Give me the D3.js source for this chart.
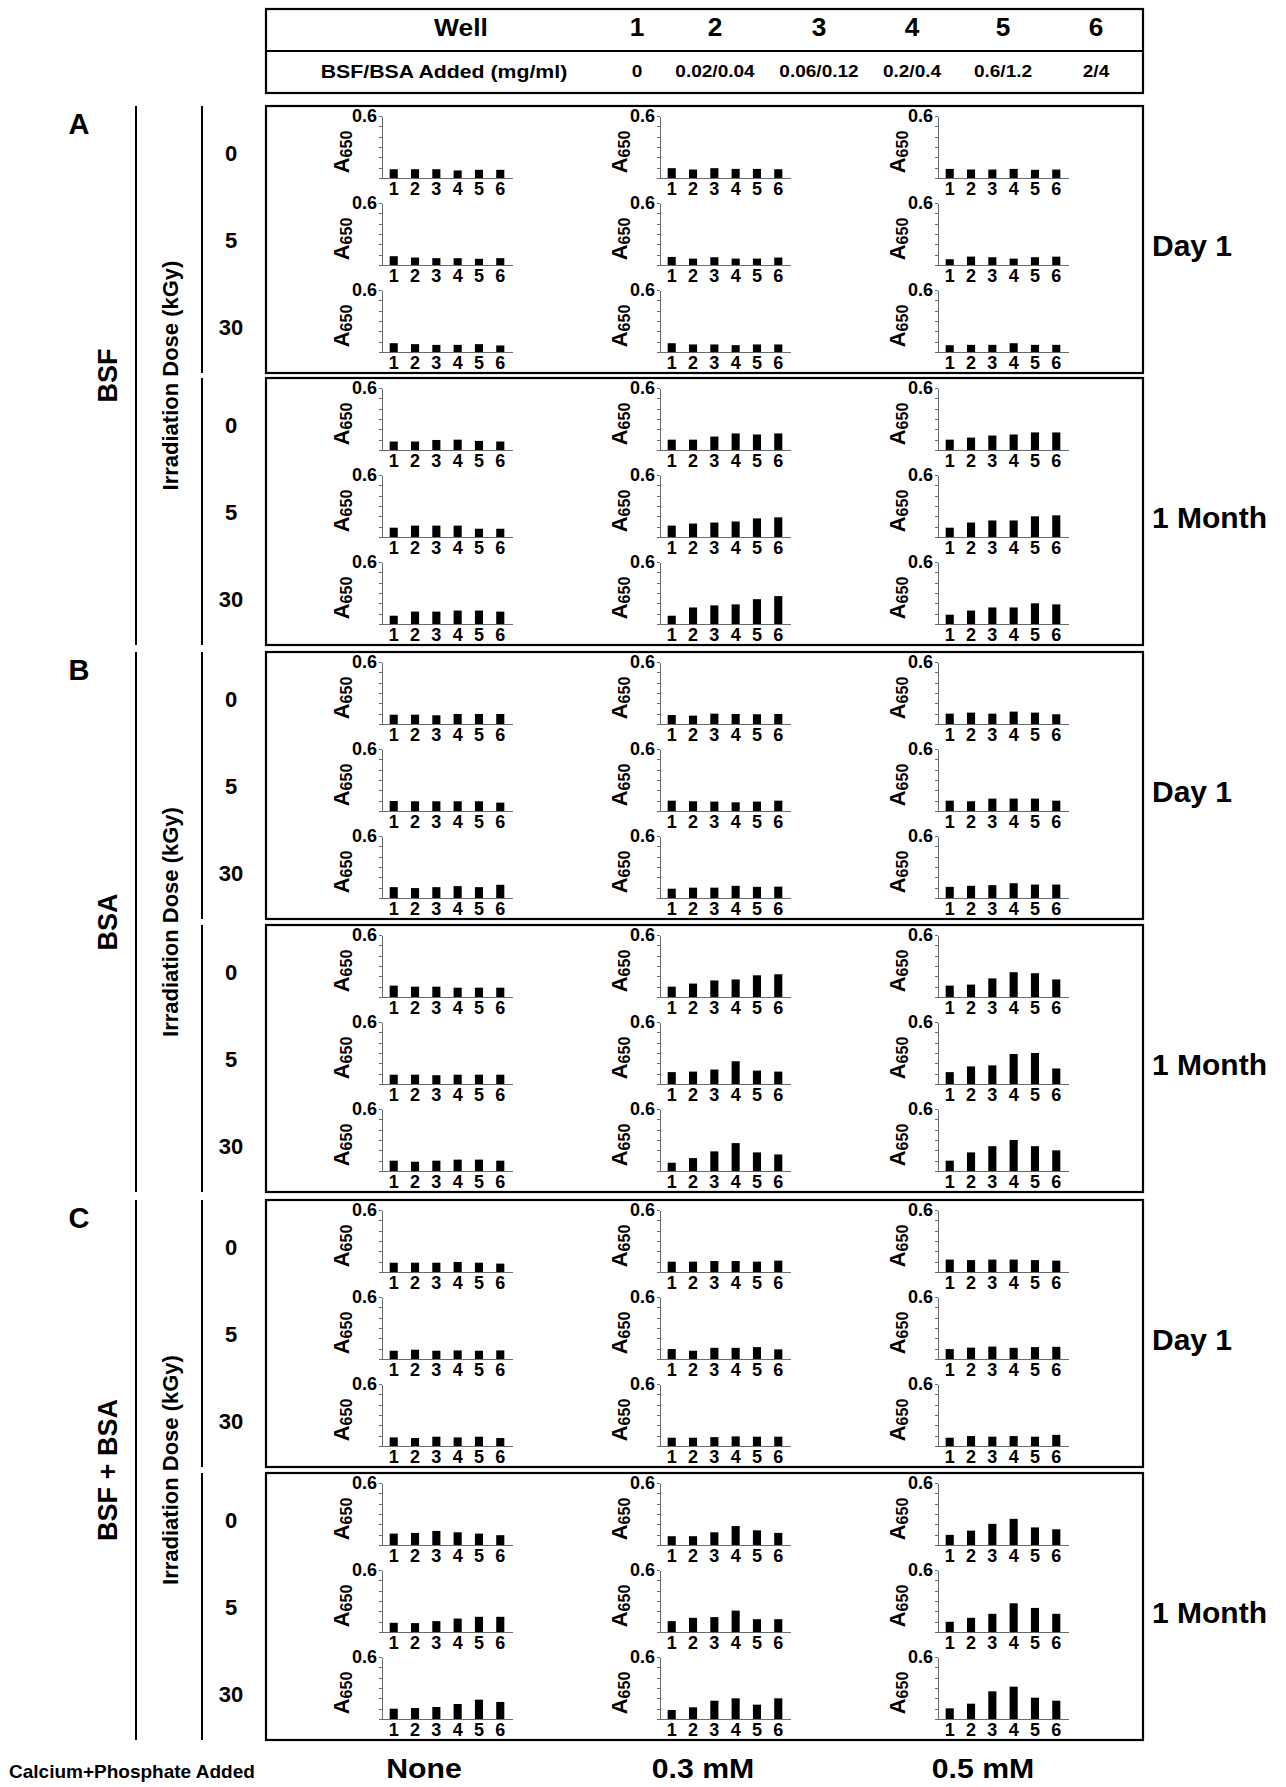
<!DOCTYPE html>
<html lang="en">
<head>
<meta charset="utf-8">
<title>A650 turbidity panels</title>
<script src="https://cdn.jsdelivr.net/npm/d3@7"></script>
<style>
  body { margin: 0; background: #fff; }
  text { font-family: "Liberation Sans", Arial, Helvetica, sans-serif; fill: #000; }
  .ax path, .ax line { stroke: #6a6a6a; shape-rendering: crispEdges; }
  .ax text { font-weight: bold; fill: #000; }
</style>
</head>
<body>
<script>
// header table
var wells = [1, 2, 3, 4, 5, 6];
var wellConc = ["0", "0.02/0.04", "0.06/0.12", "0.2/0.4", "0.6/1.2", "2/4"];

// row / column / group labels
var panelLetters = ["A", "B", "C"];
var materials = ["BSF", "BSA", "BSF + BSA"];
var doses = ["0", "5", "30"];
var times = ["Day 1", "1 Month"];
var calcium = ["None", "0.3 mM", "0.5 mM"];

// A650 per well: [dose][calcium][well]
var bsfDay1 = [
  [[0.085, 0.085, 0.085, 0.073, 0.079, 0.079], [0.095, 0.082, 0.095, 0.088, 0.088, 0.085], [0.088, 0.082, 0.082, 0.088, 0.079, 0.082]],
  [[0.085, 0.072, 0.066, 0.066, 0.060, 0.066], [0.078, 0.062, 0.075, 0.062, 0.062, 0.072], [0.056, 0.081, 0.075, 0.062, 0.075, 0.081]],
  [[0.085, 0.076, 0.069, 0.069, 0.076, 0.063], [0.085, 0.073, 0.073, 0.066, 0.073, 0.073], [0.066, 0.069, 0.069, 0.085, 0.069, 0.069]]
];
var bsfMonth = [
  [[0.082, 0.082, 0.097, 0.100, 0.088, 0.082], [0.100, 0.100, 0.130, 0.160, 0.150, 0.160], [0.100, 0.120, 0.140, 0.150, 0.170, 0.170]],
  [[0.090, 0.110, 0.110, 0.110, 0.080, 0.080], [0.110, 0.130, 0.140, 0.150, 0.180, 0.190], [0.090, 0.140, 0.160, 0.160, 0.200, 0.210]],
  [[0.080, 0.120, 0.120, 0.130, 0.130, 0.120], [0.080, 0.160, 0.180, 0.190, 0.240, 0.270], [0.090, 0.130, 0.160, 0.160, 0.200, 0.190]]
];
var bsaDay1 = [
  [[0.090, 0.090, 0.084, 0.097, 0.097, 0.097], [0.087, 0.081, 0.100, 0.097, 0.094, 0.097], [0.100, 0.110, 0.100, 0.120, 0.110, 0.094]],
  [[0.097, 0.094, 0.094, 0.094, 0.094, 0.081], [0.100, 0.094, 0.091, 0.084, 0.091, 0.100], [0.100, 0.094, 0.120, 0.120, 0.120, 0.100]],
  [[0.105, 0.096, 0.105, 0.115, 0.105, 0.128], [0.090, 0.100, 0.100, 0.118, 0.108, 0.110], [0.108, 0.118, 0.124, 0.143, 0.130, 0.130]]
];
var bsaMonth = [
  [[0.110, 0.100, 0.100, 0.090, 0.090, 0.090], [0.100, 0.130, 0.160, 0.170, 0.210, 0.220], [0.110, 0.120, 0.180, 0.240, 0.230, 0.170]],
  [[0.090, 0.090, 0.085, 0.090, 0.090, 0.090], [0.115, 0.120, 0.140, 0.220, 0.130, 0.120], [0.115, 0.170, 0.180, 0.290, 0.300, 0.150]],
  [[0.100, 0.090, 0.100, 0.110, 0.110, 0.100], [0.080, 0.125, 0.190, 0.270, 0.180, 0.160], [0.100, 0.180, 0.240, 0.300, 0.240, 0.200]]
];
var mixDay1 = [
  [[0.090, 0.090, 0.090, 0.097, 0.090, 0.081], [0.100, 0.100, 0.106, 0.106, 0.100, 0.110], [0.120, 0.115, 0.120, 0.120, 0.115, 0.110]],
  [[0.080, 0.090, 0.080, 0.083, 0.080, 0.083], [0.096, 0.080, 0.108, 0.108, 0.115, 0.093], [0.096, 0.110, 0.120, 0.108, 0.115, 0.118]],
  [[0.083, 0.077, 0.090, 0.083, 0.090, 0.077], [0.080, 0.080, 0.086, 0.093, 0.090, 0.090], [0.080, 0.096, 0.090, 0.096, 0.090, 0.108]]
];
var mixMonth = [
  [[0.110, 0.117, 0.136, 0.123, 0.110, 0.095], [0.085, 0.085, 0.123, 0.183, 0.142, 0.117], [0.098, 0.139, 0.205, 0.253, 0.170, 0.152]],
  [[0.089, 0.086, 0.105, 0.130, 0.147, 0.147], [0.105, 0.137, 0.144, 0.207, 0.124, 0.124], [0.099, 0.137, 0.176, 0.278, 0.233, 0.176]],
  [[0.100, 0.106, 0.116, 0.145, 0.187, 0.165], [0.087, 0.113, 0.177, 0.200, 0.139, 0.200], [0.103, 0.148, 0.268, 0.313, 0.206, 0.177]]
];

var yTicks = [0, 0.1, 0.2, 0.3, 0.4, 0.5, 0.6];

var panels = [[bsfDay1, bsfMonth], [bsaDay1, bsaMonth], [mixDay1, mixMonth]];

//Layout
var w = 1286, h = 1787;
var boxL = 266, boxR = 1143, boxH = 267;
var boxTops = [[106, 378], [652, 925], [1200, 1473]];
var colAxisX = [382, 660, 938];
var chartW = 130, chartH = 62, rowStep = 87, rowOffset = 10;

var svg = d3.select("body").append("svg")
  .attr("width", w)
  .attr("height", h);

svg.append("rect").attr("width", w).attr("height", h).attr("fill", "#fff");

// text helper, sx stretches glyphs horizontally (screen x)
function label(parent, x, y, str, size, o) {
  o = o || {};
  var tr = "translate(" + x + "," + y + ")";
  if (o.sx) tr += " scale(" + o.sx + ",1)";
  if (o.rot) tr += " rotate(-90)";
  return parent.append("text")
    .attr("transform", tr)
    .attr("text-anchor", o.anchor || "middle")
    .attr("dominant-baseline", "central")
    .attr("font-size", size)
    .attr("font-weight", o.weight || "bold")
    .text(str);
}

// header table
var head = svg.append("g");
head.append("rect")
  .attr("x", boxL).attr("y", 9)
  .attr("width", boxR - boxL).attr("height", 84)
  .attr("fill", "none").attr("stroke", "#000").attr("stroke-width", 2.2);
head.append("line")
  .attr("x1", boxL).attr("x2", boxR).attr("y1", 51).attr("y2", 51)
  .attr("stroke", "#000").attr("stroke-width", 2.2);

var headX = d3.scaleOrdinal().domain(wells).range([637, 715, 819, 912, 1003, 1096]);
label(head, 461, 27, "Well", 24, {sx: 1.1});
label(head, 444, 71, "BSF/BSA Added (mg/ml)", 19, {sx: 1.12});
wells.forEach(function(d, i) {
  label(head, headX(d), 27, String(d), 25, {sx: 1.05});
  label(head, headX(d), 71, wellConc[i], 17, {sx: 1.12});
});

// one small bar chart
function miniChart(g, ax, top, values) {
  var yScale = d3.scaleLinear().domain([0, 0.6]).range([top + chartH, top]);
  var xScale = d3.scaleBand().domain(wells)
    .range([ax, ax + chartW])
    .paddingInner(0.62)
    .paddingOuter(0.36);

  g.append("g")
    .selectAll("rect")
    .data(values)
    .enter()
    .append("rect")
    .attr("x", function(d, i) { return xScale(wells[i]); })
    .attr("y", function(d) { return yScale(d); })
    .attr("width", xScale.bandwidth())
    .attr("height", function(d) { return yScale(0) - yScale(d); })
    .attr("fill", "#000");

  var yAxis = d3.axisLeft(yScale)
    .tickValues(yTicks)
    .tickSize(3)
    .tickSizeOuter(0)
    .tickPadding(2)
    .tickFormat(function(d) { return d === 0.6 ? "0.6" : ""; });
  var ya = g.append("g")
    .attr("class", "ax")
    .attr("transform", "translate(" + ax + ",0)")
    .call(yAxis);
  ya.attr("font-size", 18).attr("font-family", null);

  var xAxis = d3.axisBottom(xScale).tickSize(0).tickPadding(6);
  var xa = g.append("g")
    .attr("class", "ax")
    .attr("transform", "translate(0," + (top + chartH) + ")")
    .call(xAxis);
  xa.attr("font-size", 18).attr("font-family", null);
  xa.select(".domain").attr("stroke", "#555").attr("stroke-width", 1.4);
  xa.selectAll(".tick text").attr("dy", "0.62em");

  // A650 axis title
  var t = g.append("text")
    .attr("transform", "translate(" + (ax - 33) + "," + (top + chartH / 2 + 5) + ") rotate(-90)")
    .attr("text-anchor", "middle")
    .attr("font-weight", "bold");
  t.append("tspan").attr("font-size", 22).text("A");
  t.append("tspan").attr("font-size", 16).attr("dy", 3).text("650");
}

// panel groups
panelLetters.forEach(function(letter, gi) {
  var gTop = boxTops[gi][0];
  var gBot = boxTops[gi][1] + boxH;
  var gMid = (gTop + gBot) / 2;
  var grp = svg.append("g");

  label(grp, 79, gTop + 18, letter, 29);
  grp.append("line")
    .attr("x1", 136).attr("x2", 136).attr("y1", gTop).attr("y2", gBot)
    .attr("stroke", "#000").attr("stroke-width", 2);
  label(grp, 108, gMid, materials[gi], 27, {rot: true});
  label(grp, 170, gMid, "Irradiation Dose (kGy)", 22, {rot: true});

  times.forEach(function(tm, ti) {
    var bTop = boxTops[gi][ti];
    grp.append("line")
      .attr("x1", 202).attr("x2", 202).attr("y1", bTop).attr("y2", bTop + boxH)
      .attr("stroke", "#000").attr("stroke-width", 2);
    grp.append("rect")
      .attr("x", boxL).attr("y", bTop)
      .attr("width", boxR - boxL).attr("height", boxH)
      .attr("fill", "none").attr("stroke", "#000").attr("stroke-width", 2.2);
    label(grp, 1152, bTop + boxH / 2 + 6, tm, 30, {anchor: "start"});

    var data = panels[gi][ti];
    doses.forEach(function(ds, ri) {
      var top = bTop + rowOffset + ri * rowStep;
      label(grp, 231, top + chartH / 2 + 6, ds, 22);
      calcium.forEach(function(ca, ci) {
        miniChart(grp, colAxisX[ci], top, data[ri][ci]);
      });
    });
  });
});

// bottom labels
var foot = svg.append("g");
label(foot, 9, 1771, "Calcium+Phosphate Added", 19, {anchor: "start"});
var footX = d3.scaleOrdinal().domain(calcium).range([424, 703, 983]);
calcium.forEach(function(c) {
  label(foot, footX(c), 1769, c, 27, {sx: 1.12});
});
</script>
</body>
</html>
